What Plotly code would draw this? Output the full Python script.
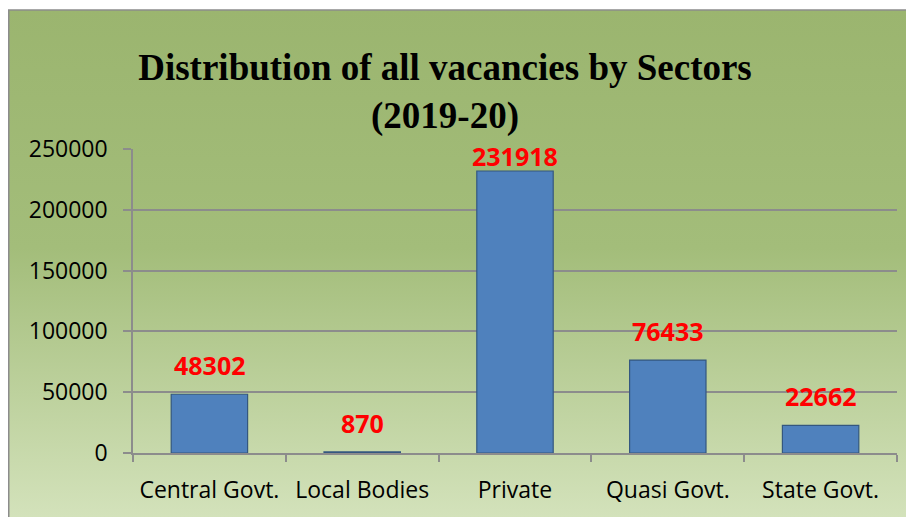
import base64
import plotly.graph_objects as go

# ---- data ----
sectors = ["Central Govt.", "Local Bodies", "Private", "Quasi Govt.", "State Govt."]
vacancies = [48302, 870, 231918, 76433, 22662]
y_ticks = [0, 50000, 100000, 150000, 200000, 250000]
title_text = "Distribution of all vacancies by Sectors<br>(2019-20)"

# ---- layout geometry (page pixels; the page body adds an 8px offset) ----
O = 8
W, H = 914 - O, 517 - O
# plot area in page pixels: x 133..897, y 149..453
L = 133 - O
T = 149 - O
R = (914 - 897)
B = (517 - 453)
pw, ph = W - L - R, H - T - B

def px_x(p):  # page pixel -> paper x
    return (p - O - L) / pw

def px_y(p):  # page pixel -> paper y
    return (H - B - (p - O)) / ph

# gradient background as an SVG image
svg = (
    '<svg xmlns="http://www.w3.org/2000/svg" width="1000" height="600" preserveAspectRatio="none">'
    '<defs><linearGradient id="g" x1="0" y1="0" x2="0" y2="1">'
    '<stop offset="0" stop-color="#9BB56F"/>'
    '<stop offset="0.45" stop-color="#A3BD7A"/>'
    '<stop offset="1" stop-color="#D7E5C0"/>'
    '</linearGradient></defs>'
    '<rect x="0" y="0" width="1000" height="600" fill="url(#g)"/>'
    '</svg>'
)
svg_uri = "data:image/svg+xml;base64," + base64.b64encode(svg.encode()).decode()

fig = go.Figure()
fig.add_trace(go.Bar(
    x=sectors,
    y=vacancies,
    marker=dict(color="#4F81BD", line=dict(color="#34577F", width=1.2)),
    width=0.5,
    hoverinfo="x+y",
))

label_shift = {"Private": 15}
for s, v in zip(sectors, vacancies):
    fig.add_annotation(
        x=s, y=v, xref="x", yref="y",
        text=f"<b>{v}</b>", showarrow=False,
        yanchor="middle", yshift=label_shift.get(s, 29),
        font=dict(family="Open Sans", size=25, color="#FF0000"),
    )

bx0, by0 = O + 0.75, 10
fig.add_layout_image(dict(
    source=svg_uri, xref="paper", yref="paper",
    x=px_x(bx0), y=px_y(by0), sizex=(W + 20) / pw, sizey=(H + 20) / ph,
    xanchor="left", yanchor="top", sizing="stretch", layer="below",
))
fig.add_shape(
    type="rect", xref="paper", yref="paper",
    x0=px_x(bx0), y0=px_y(540), x1=px_x(940), y1=px_y(by0),
    line=dict(color="#8C8C8C", width=1.5), fillcolor="rgba(0,0,0,0)", layer="below",
)

fig.update_layout(
    width=W, height=H,
    margin=dict(l=L, r=R, t=T, b=B),
    paper_bgcolor="white",
    plot_bgcolor="rgba(0,0,0,0)",
    showlegend=False,
    title=dict(
        text=title_text, xref="container", x=(445 - O) / W, xanchor="center",
        yref="container", y=1 - (80 - O) / H, yanchor="top",
        font=dict(family="Liberation Serif", size=37, color="black", weight="bold"),
    ),
    font=dict(family="Open Sans", size=23, color="black"),
    bargap=0.5,
)
fig.update_xaxes(
    type="category", showline=True, linecolor="#8C8C8C", linewidth=1.5,
    ticks="outside", tickson="boundaries", ticklen=7, tickwidth=1.5, tickcolor="#8C8C8C",
    ticklabelstandoff=16, showgrid=False,
    tickfont=dict(family="Open Sans", size=23, color="black"),
)
fig.update_yaxes(
    range=[0, 250000], tickvals=y_ticks, ticktext=[str(t) for t in y_ticks],
    showline=True, linecolor="#8C8C8C", linewidth=1.5,
    ticks="outside", ticklen=8, tickwidth=1.5, tickcolor="#8C8C8C",
    showgrid=True, gridcolor="#8C8C8C", gridwidth=1.5, zeroline=False,
    ticklabelstandoff=11,
    tickfont=dict(family="Open Sans", size=23, color="black"),
)

fig.write_html("out.html")
